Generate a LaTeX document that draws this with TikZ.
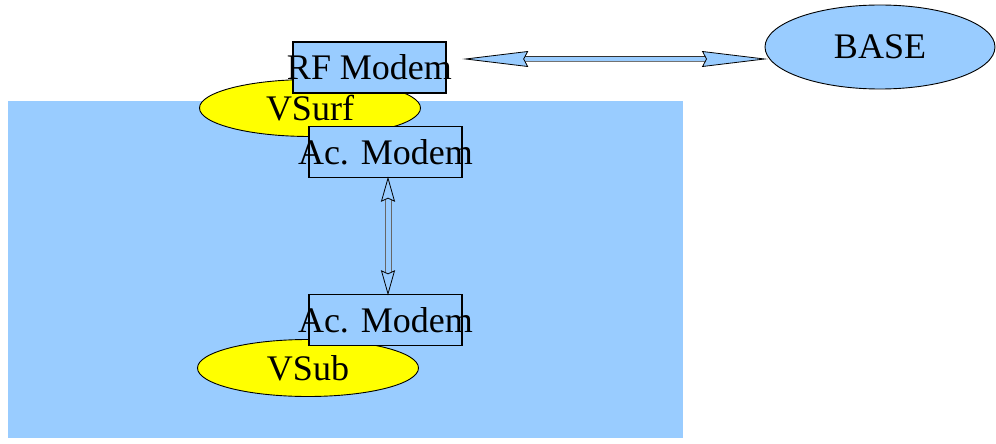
\documentclass[tikz,border=0pt]{standalone}
\usepackage{fontspec}
\setmainfont{Liberation Serif}
\usetikzlibrary{arrows.meta,shapes.geometric,calc}
\definecolor{seablue}{RGB}{153,204,255}
\definecolor{vyellow}{RGB}{255,255,0}
\begin{document}
\begin{tikzpicture}[x=1pt,y=-1pt,
  modem/.style={draw=black,line width=1.3pt,fill=seablue,inner sep=0pt,
    minimum width=153pt,minimum height=51pt,font=\fontsize{36}{36}\selectfont},
  vehicle/.style={ellipse,draw=black,line width=0.9pt,fill=vyellow,inner sep=0pt,
    minimum width=221pt,minimum height=57pt,font=\fontsize{36}{36}\selectfont},
  station/.style={ellipse,draw=black,line width=0.9pt,fill=seablue,inner sep=0pt,
    minimum width=230pt,minimum height=84pt,font=\fontsize{36}{36}\selectfont},
  shaft/.style={fill=seablue},
  rail/.style={draw=black!80,line width=0.9pt},
  headH/.style={draw=black,line width=0.8pt,fill=seablue,line join=miter},
]
\useasboundingbox (0,0) rectangle (996,444);
% sea
\fill[seablue] (8,101) rectangle (683,438);
% vehicles
\node[vehicle] (vsurf) at (310,108) {VSurf};
\node[vehicle] (vsub) at (308,368) {VSub};
% modems
\node[modem] (rf) at (369.5,67.5) {\makebox[0pt]{\raisebox{-3pt}{RF Modem}}};
\node[modem] (ac1) at (385.5,152) {\makebox[0pt]{\raisebox{-4pt}{Ac. Modem}}};
\node[modem] (ac2) at (385.5,320) {\makebox[0pt]{\raisebox{-4pt}{Ac. Modem}}};
% base station
\node[station] (base) at (880,47) {BASE};
% radio link between the RF modem and the base
\coordinate (r1) at ($(rf.east)+(19,-8.5)$);
\coordinate (r2) at (base.west |- r1);
\fill[shaft] ($(r1)+(58,-2.5)$) rectangle ($(r2)+(-58,2.5)$);
\draw[rail] ($(r1)+(58,-2.5)$) -- ($(r2)+(-58,-2.5)$);
\draw[rail,draw=black!55] ($(r1)+(58,2.5)$) -- ($(r2)+(-58,2.5)$);
\filldraw[headH] (r1) -- ++(62,-7.5) -- ++(-4,7.5) -- ++(4,7.5) -- cycle;
\filldraw[headH] (r2) -- ++(-62,-7.5) -- ++(4,7.5) -- ++(-4,7.5) -- cycle;
% acoustic link between the two acoustic modems
\coordinate (a1) at ($(ac1.south)+(2.5,0)$);
\coordinate (a2) at ($(ac2.north)+(2.5,0)$);
\draw[rail,draw=black!60] ($(a1)+(-3,20)$) -- ($(a2)+(-3,-20)$);
\draw[rail,draw=black!60] ($(a1)+(3,20)$) -- ($(a2)+(3,-20)$);
\filldraw[headH] (a1) -- ++(-6.5,23) -- ++(6.5,-3) -- ++(6.5,3) -- cycle;
\filldraw[headH] (a2) -- ++(-6.5,-23) -- ++(6.5,3) -- ++(6.5,-3) -- cycle;
\end{tikzpicture}
\end{document}
